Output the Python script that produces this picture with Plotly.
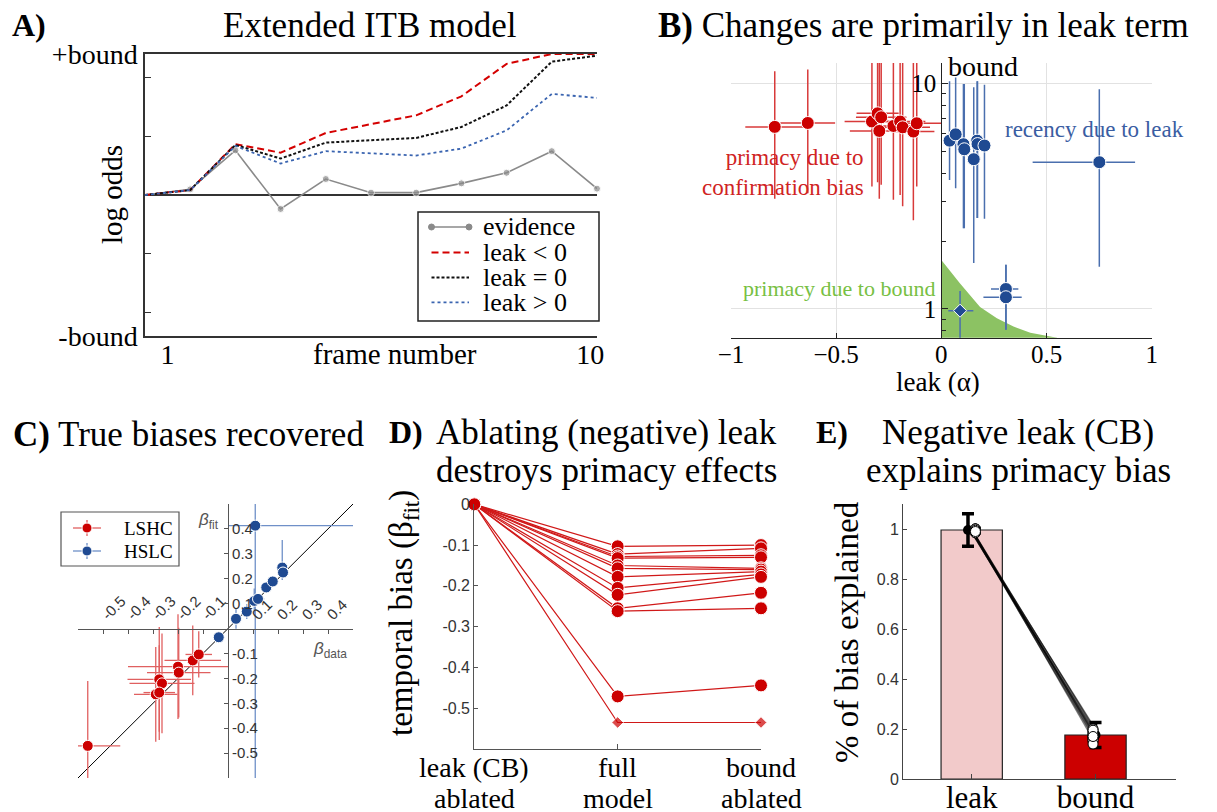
import plotly.graph_objects as go
import math

W, H = 1217, 812
PAGE_MARGIN = 8          # default body margin of the html page
FW, FH = W - PAGE_MARGIN, H - PAGE_MARGIN
SERIF = "Liberation Serif"
SANS = "Liberation Sans"

# ---------------- Panel A data ----------------
BOUND = 12
frames = [0, 1, 2, 3, 4, 5, 6, 7, 8, 9, 10]
evidence = [0, 0.48, 3.8, -1.19, 1.36, 0.2, 0.2, 0.99, 1.89, 3.73, 0.54]
leak_neg = [0, 0.42, 4.32, 3.6, 5.28, 6.0, 6.78, 8.4, 11.16, 12, 12]
leak_zero = [0, 0.42, 4.26, 3.1, 4.46, 4.66, 4.86, 5.79, 7.62, 11.35, 11.86]
leak_pos = [0, 0.42, 4.18, 2.68, 3.73, 3.53, 3.36, 3.95, 5.5, 8.6, 8.27]
a_legend_labels = ["evidence", "leak &lt; 0", "leak = 0", "leak &gt; 0"]

# ---------------- Panel B data ----------------
red_leak = [-0.792, -0.635, -0.330, -0.303, -0.286, -0.295, -0.228, -0.196, -0.184, -0.133, -0.117]
red_bound = [6.41, 6.67, 6.77, 7.36, 7.07, 6.15, 6.47, 6.77, 6.38, 6.11, 6.65]
red_bound_hi = [11.3, 11.5, 14, 14, 14, 14, 14, 14, 14, 14, 14]
red_bound_lo = [3.08, 3.26, 3.49, 3.64, 3.55, 3.08, 3.05, 3.2, 2.85, 2.47, 3.49]
red_leak_err = [0.14, 0.13, 0.13, 0.10, 0.12, 0.14, 0.10, 0.12, 0.13, 0.10, 0.12]

blue_leak = [0.039, 0.068, 0.105, 0.109, 0.154, 0.170, 0.172, 0.205, 0.751, 0.307, 0.307]
blue_bound = [5.57, 5.94, 5.37, 5.10, 4.61, 5.57, 5.38, 5.30, 4.47, 1.226, 1.127]
blue_bound_hi = [10.2, 10.6, 9.93, 9.93, 9.6, 10.2, 10.2, 9.84, 9.4, 1.57, 1.57]
blue_bound_lo = [3.73, 3.43, 2.28, 2.28, 1.6, 2.53, 2.53, 2.51, 1.54, 0.81, 0.81]
blue_leak_lo = [0.039, 0.068, 0.105, 0.109, 0.154, 0.170, 0.172, 0.205, 0.434, 0.236, 0.200]
blue_leak_hi = [0.039, 0.068, 0.105, 0.109, 0.154, 0.170, 0.172, 0.205, 0.921, 0.366, 0.382]

diam_leak = [0.089]
diam_bound = [0.983]
diam_bound_hi = [1.2]
diam_bound_lo = [0.6]
diam_leak_lo = [0.033]
diam_leak_hi = [0.152]

green_leak = [0, 0, 0.088, 0.184, 0.264, 0.343, 0.423, 0.5, 0.55, 0.55]
green_bound = [0.5, 1.65, 1.30, 1.02, 0.91, 0.836, 0.785, 0.76, 0.746, 0.5]

B_YMIN, B_YMAX = 0.746, 12.3

# ---------------- Panel C data ----------------
lshc_data = [-0.561, -0.275, -0.264, -0.289, -0.275, -0.200, -0.197, -0.141, -0.117]
lshc_fit = [-0.471, -0.204, -0.220, -0.264, -0.257, -0.153, -0.177, -0.128, -0.104]
lshc_xerr = [0.13, 0.127, 0.13, 0.087, 0.063, 0.2, 0.127, 0.113, 0.053]
lshc_yerr = [0.26, 0.21, 0.2, 0.19, 0.19, 0.21, 0.18, 0.14, 0.093]

hslc_data = [-0.037, 0.032, 0.075, 0.105, 0.120, 0.153, 0.179, 0.217, 0.220, 0.109]
hslc_fit = [-0.035, 0.039, 0.068, 0.111, 0.119, 0.165, 0.189, 0.245, 0.225, 0.413]
hslc_xerr_p = [0, 0.01, 0.015, 0.03, 0.025, 0.02, 0.02, 0.015, 0.02, 0.6]
hslc_xerr_m = [0, 0.01, 0.015, 0.03, 0.025, 0.02, 0.02, 0.015, 0.02, 0.109]
hslc_yerr_p = [0, 0.04, 0.03, 0.05, 0.02, 0.02, 0.02, 0.11, 0.02, 0.3]
hslc_yerr_m = [0, 0.04, 0.03, 0.05, 0.02, 0.02, 0.02, 0.05, 0.02, 1.1]
c_legend_labels = ["LSHC", "HSLC"]

C_RANGE = [-0.6, 0.5]
c_ticks = [-0.5, -0.4, -0.3, -0.2, -0.1, 0.1, 0.2, 0.3, 0.4]
c_ticktext = ["-0.5", "-0.4", "-0.3", "-0.2", "-0.1", "0.1", "0.2", "0.3", "0.4"]

# ---------------- Panel D data ----------------
d_conditions = [("leak (CB)", "ablated"), ("full", "model"), ("bound", "ablated")]
d_leak_ablated = [0] * 13
d_full = [-0.103, -0.122, -0.128, -0.132, -0.150, -0.157, -0.178, -0.205, -0.222, -0.255, -0.262, -0.471, -0.535]
d_bound_ablated = [-0.100, -0.108, -0.125, -0.130, -0.157, -0.160, -0.165, -0.172, -0.178, -0.217, -0.255, -0.444, -0.535]
d_ticks = [0, -0.1, -0.2, -0.3, -0.4, -0.5]
d_ticktext = ["0", "-0.1", "-0.2", "-0.3", "-0.4", "-0.5"]

# ---------------- Panel E data ----------------
e_categories = ["leak", "bound"]
e_means = [0.996, 0.176]
e_sem = [0.065, 0.05]
e_leak_subj = [0.99, 1.0, 0.995, 0.985, 1.0, 0.99, 0.995, 1.0, 0.99, 0.985, 1.0, 0.995, 0.99]
e_bound_subj = [0.15, 0.16, 0.17, 0.18, 0.19, 0.2, 0.165, 0.175, 0.155, 0.185, 0.14, 0.195, 0.17]
e_ticks = [0, 0.2, 0.4, 0.6, 0.8, 1]
e_ticktext = ["0", "0.2", "0.4", "0.6", "0.8", "1"]


def px_x(p):
    return (p - PAGE_MARGIN) / FW


def px_y(p):
    return 1 - (p - PAGE_MARGIN) / FH


RED = "#cc0000"
RED_ERR = "#d83a3a"
BLUE = "#1f4a92"
BLUE_ERR = "#4a6fae"
EVID = "#8a8a8a"

fig = go.Figure()

# ---------- A ----------
a_styles = [
    dict(color=EVID, width=1.6, dash="solid"),
    dict(color="#d40000", width=2, dash="7px,4px"),
    dict(color="#111111", width=2, dash="3px,2px"),
    dict(color="#3a64b0", width=1.8, dash="dot"),
]
fig.add_trace(go.Scatter(
    x=frames, y=evidence, mode="lines+markers",
    line=a_styles[0], marker=dict(color=EVID, size=[0] + [7] * 10),
    xaxis="x", yaxis="y", showlegend=False, cliponaxis=False))
for series, st in zip([leak_neg, leak_zero, leak_pos], a_styles[1:]):
    fig.add_trace(go.Scatter(
        x=frames, y=series, mode="lines", line=st,
        xaxis="x", yaxis="y", showlegend=False, cliponaxis=False))

# ---------- B ----------
fig.add_trace(go.Scatter(
    x=green_leak, y=green_bound, mode="lines", fill="toself",
    fillcolor="#8cc263", line=dict(width=0, color="#8cc263"),
    xaxis="x2", yaxis="y2", showlegend=False, hoverinfo="skip"))
fig.add_trace(go.Scatter(
    x=red_leak, y=red_bound, mode="markers",
    marker=dict(color=RED, size=13, line=dict(color="white", width=1)),
    error_y=dict(type="data", symmetric=False,
                 array=[h - v for h, v in zip(red_bound_hi, red_bound)],
                 arrayminus=[v - l for v, l in zip(red_bound, red_bound_lo)],
                 color=RED_ERR, thickness=1.5, width=0),
    error_x=dict(type="data", array=red_leak_err, color=RED_ERR, thickness=1.5, width=0),
    xaxis="x2", yaxis="y2", showlegend=False))
fig.add_trace(go.Scatter(
    x=blue_leak, y=blue_bound, mode="markers",
    marker=dict(color=BLUE, size=13, line=dict(color="white", width=1)),
    error_y=dict(type="data", symmetric=False,
                 array=[h - v for h, v in zip(blue_bound_hi, blue_bound)],
                 arrayminus=[v - l for v, l in zip(blue_bound, blue_bound_lo)],
                 color=BLUE_ERR, thickness=1.5, width=0),
    error_x=dict(type="data", symmetric=False,
                 array=[h - v for h, v in zip(blue_leak_hi, blue_leak)],
                 arrayminus=[v - l for v, l in zip(blue_leak, blue_leak_lo)],
                 color=BLUE_ERR, thickness=1.5, width=0),
    xaxis="x2", yaxis="y2", showlegend=False))
fig.add_trace(go.Scatter(
    x=diam_leak, y=diam_bound, mode="markers",
    marker=dict(color=BLUE, size=10, symbol="diamond", line=dict(color="white", width=1)),
    error_y=dict(type="data", symmetric=False,
                 array=[h - v for h, v in zip(diam_bound_hi, diam_bound)],
                 arrayminus=[v - l for v, l in zip(diam_bound, diam_bound_lo)],
                 color=BLUE_ERR, thickness=1.5, width=0),
    error_x=dict(type="data", symmetric=False,
                 array=[h - v for h, v in zip(diam_leak_hi, diam_leak)],
                 arrayminus=[v - l for v, l in zip(diam_leak, diam_leak_lo)],
                 color=BLUE_ERR, thickness=1.5, width=0),
    xaxis="x2", yaxis="y2", showlegend=False))

# ---------- C ----------
fig.add_trace(go.Scatter(
    x=C_RANGE, y=C_RANGE, mode="lines", line=dict(color="black", width=1),
    xaxis="x3", yaxis="y3", showlegend=False, hoverinfo="skip"))
fig.add_trace(go.Scatter(
    x=lshc_data, y=lshc_fit, mode="markers",
    marker=dict(color=RED, size=11, line=dict(color="white", width=1)),
    error_x=dict(type="data", array=lshc_xerr, color="#e06060", thickness=1.3, width=0),
    error_y=dict(type="data", array=lshc_yerr, color="#e06060", thickness=1.3, width=0),
    xaxis="x3", yaxis="y3", showlegend=False))
fig.add_trace(go.Scatter(
    x=hslc_data, y=hslc_fit, mode="markers",
    marker=dict(color=BLUE, size=11, line=dict(color="white", width=1)),
    error_x=dict(type="data", symmetric=False, array=hslc_xerr_p, arrayminus=hslc_xerr_m,
                 color="#6f90c8", thickness=1.3, width=0),
    error_y=dict(type="data", symmetric=False, array=hslc_yerr_p, arrayminus=hslc_yerr_m,
                 color="#6f90c8", thickness=1.3, width=0),
    xaxis="x3", yaxis="y3", showlegend=False))

# ---------- D ----------
n_d = len(d_full)
for i in range(n_d):
    last = i == n_d - 1
    syms = ["circle", "diamond", "diamond"] if last else "circle"
    sizes = [13, 9, 9] if last else 13
    fig.add_trace(go.Scatter(
        x=[0, 1, 2], y=[d_leak_ablated[i], d_full[i], d_bound_ablated[i]],
        mode="lines+markers", line=dict(color="#d01818", width=1.2),
        marker=dict(color=RED, size=sizes, symbol=syms, line=dict(color="white", width=1)),
        xaxis="x4", yaxis="y4", showlegend=False, cliponaxis=False))

# ---------- E ----------
fig.add_trace(go.Bar(
    x=[1, 2], y=e_means, width=0.495,
    marker=dict(color=["#f2caca", "#cc0000"], line=dict(color="#222", width=1.2)),
    xaxis="x5", yaxis="y5", showlegend=False))
for lv, bv in zip(e_leak_subj, e_bound_subj):
    fig.add_trace(go.Scatter(
        x=[1, 2], y=[lv, bv], mode="lines",
        line=dict(color="rgba(0,0,0,0.5)", width=1.3),
        xaxis="x5", yaxis="y5", showlegend=False, hoverinfo="skip"))
fig.add_trace(go.Scatter(
    x=[0.97, 2], y=e_means, mode="markers",
    marker=dict(color="black", size=10),
    error_y=dict(type="data", array=e_sem, color="black", thickness=3.5, width=6),
    xaxis="x5", yaxis="y5", showlegend=False, cliponaxis=False))
fig.add_trace(go.Scatter(
    x=[1.03] * len(e_leak_subj) + [1.98] * len(e_bound_subj),
    y=e_leak_subj + e_bound_subj, mode="markers",
    marker=dict(color="white", size=10, line=dict(color="black", width=1)),
    xaxis="x5", yaxis="y5", showlegend=False, cliponaxis=False))

# ---------------- axes ----------------
layout = dict(
    width=FW, height=FH, margin=dict(l=0, r=0, t=0, b=0),
    paper_bgcolor="white", plot_bgcolor="rgba(0,0,0,0)", template="none",
    showlegend=False,
    # A
    xaxis=dict(domain=[px_x(145), px_x(597)], range=[0, 10], anchor="y",
               showline=True, linecolor="#333", linewidth=1.5, mirror=True,
               showgrid=False, zeroline=False, ticks="",
               tickvals=[0.5, 9.85], ticktext=["1", "10"], ticklabelstandoff=-7,
               tickfont=dict(family=SERIF, size=28, color="black")),
    yaxis=dict(domain=[px_y(336), px_y(54)], range=[-BOUND, BOUND], anchor="x",
               showline=True, linecolor="#333", linewidth=1.5, showgrid=False,
               zeroline=True, zerolinecolor="#333", zerolinewidth=1.5,
               ticks="inside", ticklen=6, tickcolor="#333",
               tickvals=[-BOUND, BOUND], ticktext=["-bound", "+bound"],
               minor=dict(tickvals=[-10, -5, 5, 10], ticks="inside", ticklen=6,
                          tickcolor="#333", showgrid=False),
               tickfont=dict(family=SERIF, size=28, color="black")),
    # B
    xaxis2=dict(domain=[px_x(731), px_x(1151.7)], range=[-1, 1], anchor="y2",
                showline=True, linecolor="#222", linewidth=1.3,
                showgrid=True, gridcolor="#e2e2e2", gridwidth=1, zeroline=False,
                ticks="inside", ticklen=5, tickcolor="#222",
                tickvals=[-1, -0.5, 0, 0.5, 1], ticklabelstandoff=-6,
                ticktext=["\u22121", "\u22120.5", "0", "0.5", "1"],
                tickfont=dict(family=SERIF, size=25, color="black")),
    yaxis2=dict(domain=[px_y(337.7), px_y(63)], type="log",
                range=[math.log10(B_YMIN), math.log10(B_YMAX)],
                anchor="free", position=px_x(941.3),
                showline=True, linecolor="#222", linewidth=1.3,
                showgrid=True, gridcolor="#e2e2e2", zeroline=False,
                ticks="inside", ticklen=6, tickcolor="#222",
                tickvals=[1, 10], ticktext=["1", "10"],
                tickfont=dict(family=SERIF, size=25, color="black"),
                minor=dict(tickvals=[0.8, 0.9, 2, 3, 4, 5, 6, 7, 8, 9],
                           ticks="inside", ticklen=4, tickcolor="#222", showgrid=False)),
    # C
    xaxis3=dict(domain=[px_x(78), px_x(353)], range=C_RANGE, anchor="free",
                position=px_y(629), side="top",
                showline=True, linecolor="#555", linewidth=1.2,
                showgrid=False, zeroline=False,
                ticks="inside", ticklen=4, tickcolor="#555",
                tickvals=c_ticks, ticktext=c_ticktext, tickangle=-45,
                tickfont=dict(family=SANS, size=15, color="#333")),
    yaxis3=dict(domain=[px_y(778), px_y(504)], range=C_RANGE, anchor="free",
                position=px_x(228), side="right",
                showline=True, linecolor="#555", linewidth=1.2,
                showgrid=False, zeroline=False,
                ticks="inside", ticklen=4, tickcolor="#555",
                tickvals=c_ticks, ticktext=c_ticktext,
                tickfont=dict(family=SANS, size=15, color="#333")),
    # D
    xaxis4=dict(domain=[px_x(474.3), px_x(761)], range=[0, 2], anchor="y4",
                showline=True, linecolor="#555", linewidth=1.2,
                showgrid=False, zeroline=False,
                ticks="inside", ticklen=5, tickcolor="#555",
                tickvals=[0, 1, 2], showticklabels=False),
    yaxis4=dict(domain=[px_y(749), px_y(504.3)], range=[-0.6, 0], anchor="x4",
                showline=True, linecolor="#555", linewidth=1.2,
                showgrid=False, zeroline=False,
                ticks="inside", ticklen=4, tickcolor="#555",
                tickvals=d_ticks, ticktext=d_ticktext,
                tickfont=dict(family=SANS, size=16, color="#333")),
    # E
    xaxis5=dict(domain=[px_x(903.3), px_x(1176)], range=[0.4475, 2.65], anchor="y5",
                showline=True, linecolor="#444", linewidth=1.2,
                showgrid=False, zeroline=False,
                ticks="inside", ticklen=5, tickcolor="#444",
                tickvals=[1, 2], ticktext=e_categories, ticklabelstandoff=-9,
                tickfont=dict(family=SERIF, size=31, color="black")),
    yaxis5=dict(domain=[px_y(779), px_y(504)], range=[0, 1.1], anchor="x5",
                showline=True, linecolor="#444", linewidth=1.2,
                showgrid=False, zeroline=False,
                ticks="inside", ticklen=4, tickcolor="#444",
                tickvals=e_ticks, ticktext=e_ticktext,
                tickfont=dict(family=SANS, size=16, color="#333")),
)
fig.update_layout(**layout)


def ann(text, px, py, size, xanchor="center", yanchor="middle", color="black",
        family=SERIF, angle=0, align="center"):
    return dict(text=text, x=px_x(px), y=px_y(py), xref="paper", yref="paper",
                showarrow=False, xanchor=xanchor, yanchor=yanchor, align=align,
                font=dict(family=family, size=size, color=color), textangle=angle)


def pline(x0, y0, x1, y1, color, width, dash="solid"):
    return dict(type="line", xref="paper", yref="paper",
                x0=px_x(x0), y0=px_y(y0), x1=px_x(x1), y1=px_y(y1),
                line=dict(color=color, width=width, dash=dash), layer="above")


def pdot(cx, cy, r, color, line_color=None):
    return dict(type="circle", xref="paper", yref="paper",
                x0=px_x(cx - r), x1=px_x(cx + r), y0=px_y(cy + r), y1=px_y(cy - r),
                fillcolor=color, line=dict(color=line_color or color, width=1), layer="above")


annotations = [
    # titles
    ann("<b>A)</b>", 10, 25, 32, xanchor="left"),
    ann("Extended ITB model", 370, 25, 35),
    ann("<b>B)</b> Changes are primarily in leak term", 656, 25, 35, xanchor="left"),
    ann("<b>C)</b> True biases recovered", 11, 434, 35, xanchor="left"),
    ann("<b>D)</b>", 387, 432, 32, xanchor="left"),
    ann("Ablating (negative) leak", 606, 432, 35),
    ann("destroys primacy effects", 606, 470, 35),
    ann("<b>E)</b>", 814, 432, 32, xanchor="left"),
    ann("Negative leak (CB)", 1018, 432, 35),
    ann("explains primacy bias", 1018, 470, 35),
    # A
    ann("log odds", 112, 195, 29, angle=-90),
    ann("frame number", 395, 354, 29),
    # B
    ann("leak (\u03b1)", 938, 382, 27),
    ann("bound", 946, 67, 28, xanchor="left"),
    ann("primacy due to<br>confirmation bias", 866, 173, 23, xanchor="right",
        color="#d02323", align="right"),
    ann("recency due to leak", 1003, 129, 23, xanchor="left", color="#3a5da2"),
    ann("primacy due to bound", 937, 288, 22, xanchor="right", color="#77c043"),
    # C
    ann("<i>\u03b2</i><sub>fit</sub>", 209, 521, 17, color="#555", family=SANS),
    ann("<i>\u03b2</i><sub>data</sub>", 330, 650, 17, color="#555", family=SANS),
    # D
    ann("temporal bias (\u03b2<sub>fit</sub>)", 403, 613, 33, angle=-90),
    # E
    ann("% of bias explained", 847, 632, 33, angle=-90),
]

# D category labels (two lines each, under the categories)
for i, (l1, l2) in enumerate(d_conditions):
    for txt, py in ((l1, 767), (l2, 798)):
        annotations.append(dict(text=txt, x=i, xref="x4", y=px_y(py), yref="paper",
                                showarrow=False, xanchor="center", yanchor="middle",
                                font=dict(family=SERIF, size=28, color="black")))

shapes = []
# ---- custom legend for A ----
shapes.append(dict(type="rect", xref="paper", yref="paper",
                   x0=px_x(418), x1=px_x(599), y0=px_y(321), y1=px_y(212),
                   line=dict(color="#222", width=1.5), fillcolor="white", layer="above"))
a_leg_y = [227, 252.5, 277.4, 302.3]
for lbl, st, ly in zip(a_legend_labels, a_styles, a_leg_y):
    shapes.append(pline(431.5, ly, 469, ly, st["color"], st["width"], st["dash"]))
    annotations.append(ann(lbl, 481, ly, 26, xanchor="left"))
shapes.append(pdot(431.5, a_leg_y[0], 3, EVID))
shapes.append(pdot(469, a_leg_y[0], 3, EVID))

# ---- custom legend for C ----
shapes.append(dict(type="rect", xref="paper", yref="paper",
                   x0=px_x(61), x1=px_x(179), y0=px_y(566), y1=px_y(512),
                   line=dict(color="#555", width=1.2), fillcolor="white", layer="above"))
for lbl, col, ecol, ly in zip(c_legend_labels, [RED, BLUE], ["#e06060", "#6f90c8"], [528, 551]):
    shapes.append(pline(73, ly, 101, ly, ecol, 1.3))
    shapes.append(pline(87, ly - 8, 87, ly + 8, ecol, 1.3))
    shapes.append(pdot(87, ly, 5, col, "white"))
    annotations.append(ann(lbl, 122, ly, 19, xanchor="left"))

fig.update_layout(annotations=annotations, shapes=shapes)

fig.write_html("out.html")
